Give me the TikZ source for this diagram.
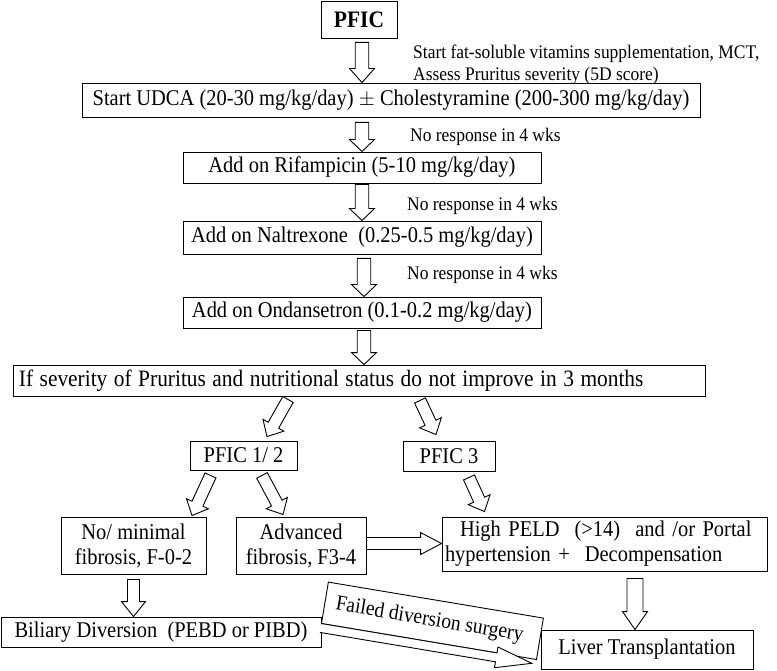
\documentclass[tikz,border=0pt]{standalone}
\usepackage{fontspec}
\setmainfont{Liberation Serif}[FakeStretch=0.91]
\usetikzlibrary{calc}
\newcommand{\mainsz}{\fontsize{22.5}{25}\selectfont}
\newcommand{\sevsz}{\fontsize{23.5}{26}\selectfont}
\newcommand{\labsz}{\fontsize{19.2}{22}\selectfont}
\newcommand{\failsz}{\fontsize{21.5}{24}\selectfont}
\newcommand{\boldsz}{\fontsize{23.6}{26}\selectfont\bfseries}
% block arrow: start, end, shaft half width, head half width, head length
\newcommand{\blockarrow}[5]{%
  \coordinate (hb) at ($(#2)!#5!(#1)$);
  \draw[barrow] ($(#1)!#3!90:(#2)$) -- ($(hb)!#3!90:(#2)$) -- ($(hb)!#4!90:(#2)$)
     -- (#2) -- ($(hb)!#4!-90:(#2)$) -- ($(hb)!#3!-90:(#2)$) -- ($(#1)!#3!-90:(#2)$) -- cycle;
}
\tikzset{
  box/.style={draw, line width=0.9pt, inner sep=0pt, align=center, font=\mainsz},
  barrow/.style={draw, fill=white, line width=0.9pt, line join=miter},
  lab/.style={inner sep=0pt, anchor=west, align=left, font=\labsz}
}
\begin{document}
\begin{tikzpicture}[x=1pt,y=-1pt]
\useasboundingbox (0,0) rectangle (777,671);
% nodes
\node[box, font=\boldsz, minimum width=76pt, minimum height=37pt] (pfic) at (359,19.5) {PFIC};
\node[box, minimum width=618pt, minimum height=34pt] (udca) at (391,100) {Start UDCA (20-30 mg/kg/day) $\pm$ Cholestyramine (200-300 mg/kg/day)};
\node[box, minimum width=358pt, minimum height=31pt] (rif) at (362,167.5) {Add on Rifampicin (5-10 mg/kg/day)};
\node[box, minimum width=358pt, minimum height=33pt] (nal) at (362,237.5) {Add on Naltrexone\ \ (0.25-0.5 mg/kg/day)};
\node[box, minimum width=358pt, minimum height=31pt] (ond) at (362,312.5) {Add on Ondansetron (0.1-0.2 mg/kg/day)};
\node[box, font=\sevsz, minimum width=692pt, minimum height=31pt, align=left, text width=680pt] (sev) at (359,380.5) {\spaceskip=6.5pt plus 1pt If severity of Pruritus and nutritional status do not improve in 3 months};
\node[box, minimum width=107pt, minimum height=29pt] (p12) at (243.5,455.5) {PFIC 1/ 2};
\node[box, minimum width=92pt, minimum height=30pt] (p3) at (449,456) {PFIC 3};
\node[box, minimum width=145pt, minimum height=57pt] (nomin) at (133.5,545.5) {No/ minimal\\fibrosis, F-0-2};
\node[box, minimum width=130pt, minimum height=57pt] (adv) at (301,545.5) {Advanced\\fibrosis, F3-4};
\node[box, minimum width=325pt, minimum height=54pt, align=left, text width=319pt] (high) at (604.5,544) {\ \ High PELD\ \ (>14)\ \ and /or Portal\\hypertension +\ \ Decompensation};
\node[box, minimum width=320pt, minimum height=30pt] (bil) at (161,632) {Biliary Diversion\ \ (PEBD or PIBD)};
\node[box, minimum width=212pt, minimum height=39pt] (liver) at (647,649.5) {Liver Transplantation};
% labels
\node[lab] (l0) at (413,65) {Start fat-soluble vitamins supplementation, MCT,\\Assess Pruritus severity (5D score)};
\node[lab] (l1) at (410,137) {No response in 4 wks};
\node[lab] (l2) at (407,206) {No response in 4 wks};
\node[lab] (l3) at (407,275) {No response in 4 wks};
% arrow coordinates
\coordinate (a1s) at ($(pfic.south)+(3,4)$);   \coordinate (a1e) at (a1s |- udca.north);
\coordinate (a2s) at ($(udca.south)+(-29,5)$); \coordinate (a2e) at (a2s |- rif.north);
\coordinate (a3s) at ($(rif.south)+(0,1)$);    \coordinate (a3e) at (a3s |- nal.north);
\coordinate (a4s) at ($(nal.south)+(2,4)$);    \coordinate (a4e) at (a4s |- ond.north);
\coordinate (a5s) at ($(ond.south)+(2,2)$);    \coordinate (a5e) at (a5s |- sev.north);
\coordinate (d1s) at ($(sev.south)+(-71,3)$);  \coordinate (d1e) at ($(p12.north)+(23.5,-4)$);
\coordinate (d2s) at ($(sev.south)+(61,4)$);   \coordinate (d2e) at ($(p3.north)+(-13,-6)$);
\coordinate (d3s) at ($(p12.south)+(-33,5)$);  \coordinate (d3e) at ($(nomin.north)+(58.5,-1)$);
\coordinate (d4s) at ($(p12.south)+(18.5,5)$); \coordinate (d4e) at ($(adv.north)+(-18,-2)$);
\coordinate (d5s) at ($(p3.south)+(20,6)$);    \coordinate (d5e) at ($(high.north)+(-120,-5)$);
\coordinate (h1s) at ($(adv.east)+(0,-2)$);    \coordinate (h1e) at (h1s -| high.west);
\coordinate (v1s) at ($(nomin.south)+(0,5)$);  \coordinate (v1e) at (v1s |- bil.north);
\coordinate (v2s) at ($(high.south)+(30.5,7)$); \coordinate (v2e) at (v2s |- liver.north);
% block arrows
\blockarrow{a1s}{a1e}{6.75pt}{12.5pt}{14pt}
\blockarrow{a2s}{a2e}{6.75pt}{12.5pt}{12pt}
\blockarrow{a3s}{a3e}{6.75pt}{12.5pt}{12pt}
\blockarrow{a4s}{a4e}{6.75pt}{12.5pt}{12pt}
\blockarrow{a5s}{a5e}{6.75pt}{12.5pt}{12pt}
\blockarrow{d1s}{d1e}{6pt}{12pt}{13pt}
\blockarrow{d2s}{d2e}{6pt}{12pt}{13pt}
\blockarrow{d3s}{d3e}{6pt}{12pt}{13pt}
\blockarrow{d4s}{d4e}{6pt}{12pt}{13pt}
\blockarrow{d5s}{d5e}{6pt}{12pt}{13pt}
\blockarrow{h1s}{h1e}{6pt}{11pt}{21pt}
\blockarrow{v1s}{v1e}{6pt}{12pt}{15pt}
\blockarrow{v2s}{v2e}{8pt}{12.5pt}{18pt}
% slanted arrow with label
\begin{scope}[shift={($(bil.north east)+(0,7)$)}, rotate=-9.5]
  \draw[barrow] (0,0) rectangle (218,-42);
  \node[rotate=-9.5, font=\failsz, inner sep=0pt] (fail) at (106,-21) {Failed diversion surgery};
  \draw[barrow] (0,0) -- (178,0) -- (178,-6) -- (214,4.5) -- (178,15) -- (178,9) -- (0,9);
\end{scope}
\end{tikzpicture}
\end{document}
